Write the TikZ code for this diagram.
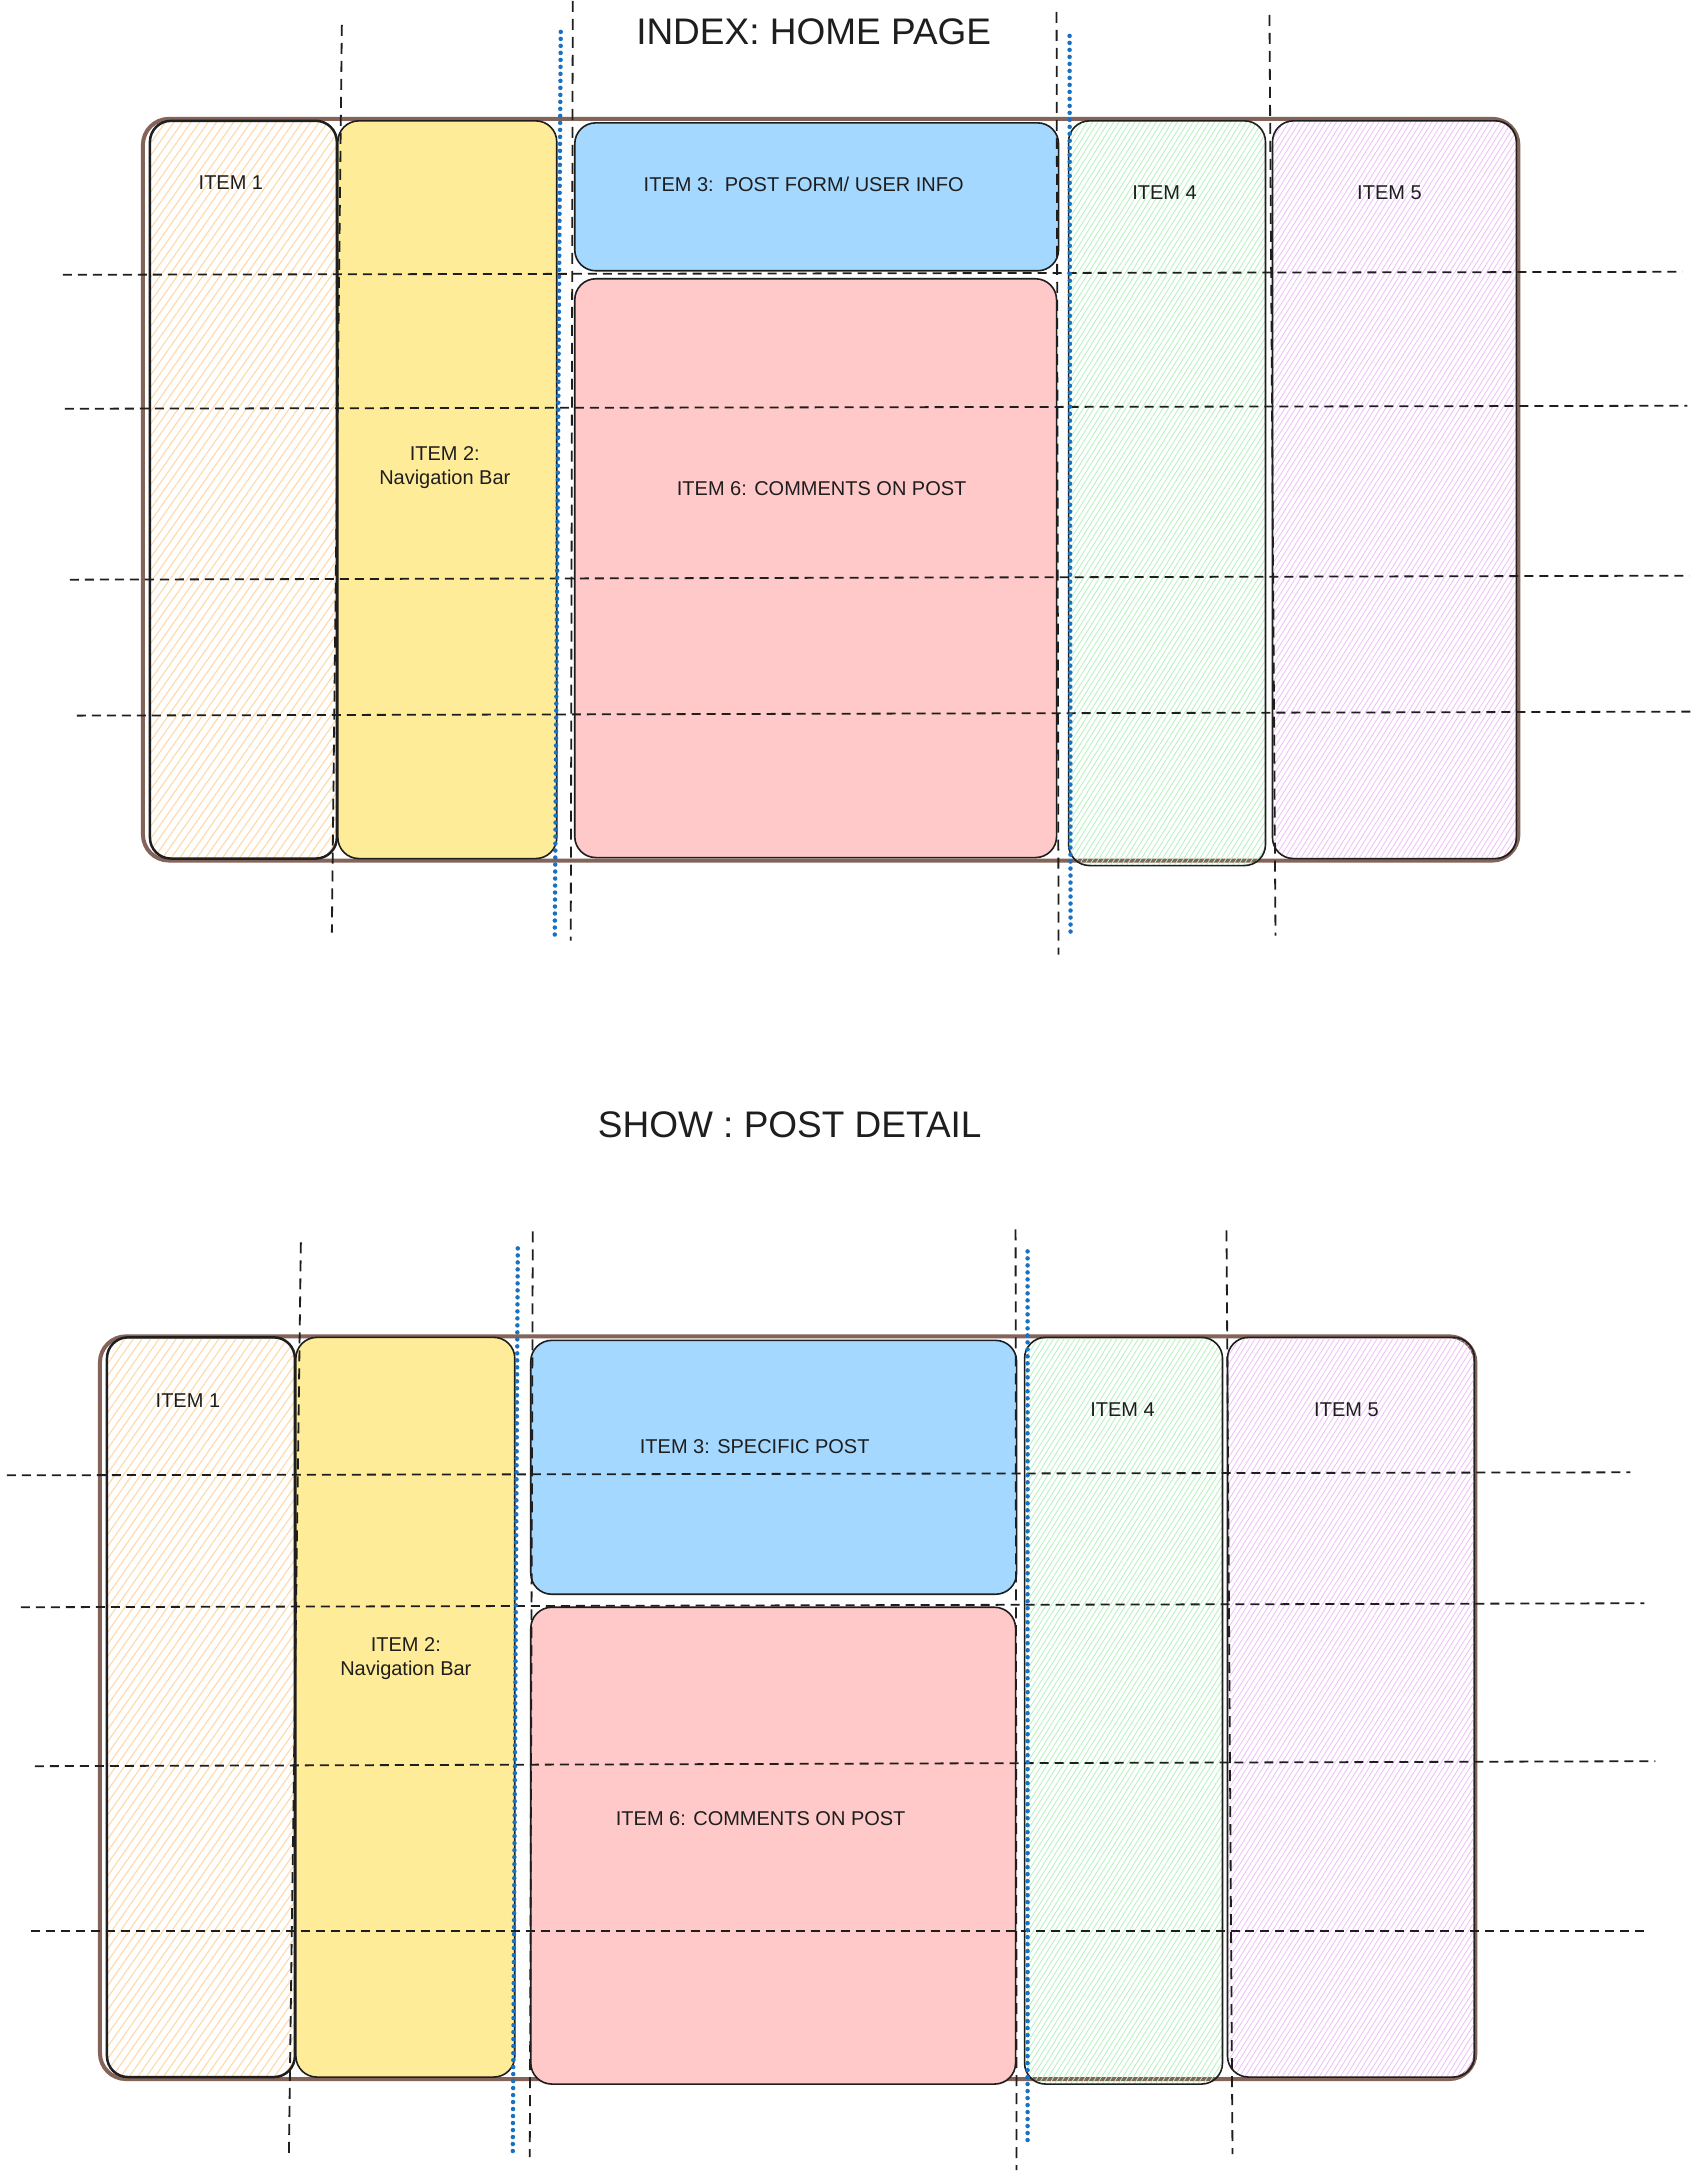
\documentclass[tikz,border=0pt]{standalone}
\usepackage{fontspec}
\setmainfont{Liberation Sans}
\usepackage{xcolor}
\usepackage{tikz}
\usetikzlibrary{patterns.meta}

\definecolor{framebrown}{HTML}{846358}
\definecolor{ink}{HTML}{1E1E1E}
\definecolor{navyellow}{HTML}{FFEC99}
\definecolor{postblue}{HTML}{A5D8FF}
\definecolor{commentpink}{HTML}{FFC9C9}
\definecolor{hatchorange}{HTML}{FFD8A8}
\definecolor{hatchgreen}{HTML}{B2F2BB}
\definecolor{hatchpurple}{HTML}{EEBEFA}
\definecolor{guideblue}{HTML}{1971C2}

\tikzset{
  pageframe/.style={draw=framebrown, line width=4pt, rounded corners=26pt},
  itembox/.style={draw=ink, line width=1.6pt, rounded corners=21pt},
  hatchwide/.style={itembox, pattern={Lines[angle=55,distance=7pt,line width=1.1pt]}, pattern color=#1},
  hatchfine/.style={itembox, pattern={Lines[angle=58,distance=4.5pt,line width=0.8pt]}, pattern color=#1},
  gridline/.style={draw=ink, line width=1.8pt, dash pattern=on 9pt off 6pt},
  colline/.style={draw=ink, line width=1.8pt, dash pattern=on 11pt off 7pt},
  colguide/.style={draw=guideblue, line width=4.5pt, line cap=round, dash pattern=on 0pt off 7pt},
  lbl/.style={font=\fontsize{20}{24}\selectfont, text=ink, align=center},
  heading/.style={font=\fontsize{37}{40}\selectfont, text=ink}
}

\begin{document}
\begin{tikzpicture}[x=1pt, y=-1pt]
    \fill[white] (0,0) rectangle (1703,2176);

    % INDEX: HOME PAGE
    \node[heading] (idxtitle) at (814,31) {INDEX: HOME PAGE};
    \draw[pageframe] (143,118) rectangle (1519,860);
    \draw[hatchwide=hatchorange, line width=2.5pt] (150,120) rectangle (337,858);
    \draw[itembox, fill=navyellow] (338,120) rectangle (557,858);
    \draw[itembox, fill=postblue] (575,122) rectangle (1059,270);
    \draw[itembox, fill=commentpink] (575,278) rectangle (1057,857);
    \draw[hatchfine=hatchgreen] (1069,120) rectangle (1266,865);
    \draw[hatchfine=hatchpurple] (1273,120) rectangle (1517,858);

    \node[lbl] (idxone) at (231,182) {ITEM 1};
    \node[lbl] (idxtwo) at (445,467) {ITEM 2:\\ Navigation Bar};
    \node[lbl] (idxthree) at (804,184) {ITEM 3:\ \ POST FORM/ USER INFO};
    \node[lbl] (idxsix) at (822,488) {ITEM 6: COMMENTS ON POST};
    \node[lbl] (idxfour) at (1165,192) {ITEM 4};
    \node[lbl] (idxfive) at (1390,192) {ITEM 5};

    % Guides
    \foreach \xa/\ya/\xb/\yb in {63/274/1683/271, 65/408/1688/405, 70/579/1690/575, 77/715/1695/711}
        \draw[gridline] (\xa,\ya) -- (\xb,\yb);
    \foreach \xa/\ya/\xb/\yb in {342/24/332/932, 573/0/571/940, 1057/11/1059/954, 1270/14/1276/935}
        \draw[colline] (\xa,\ya) -- (\xb,\yb);
    \foreach \xa/\ya/\xb/\yb in {561/31/555/935, 1070/35/1071/935}
        \draw[colguide] (\xa,\ya) -- (\xb,\yb);

    % SHOW : POST DETAIL
    \node[heading] (shwtitle) at (790,1124) {SHOW : POST DETAIL};
    \draw[pageframe] (100,1336) rectangle (1476,2079);
    \draw[hatchwide=hatchorange, line width=2.5pt] (107,1337) rectangle (295,2077);
    \draw[itembox, fill=navyellow] (296,1337) rectangle (515,2077);
    \draw[itembox, fill=postblue] (531,1340) rectangle (1017,1594);
    \draw[itembox, fill=commentpink] (531,1607) rectangle (1016,2084);
    \draw[hatchfine=hatchgreen] (1025,1337) rectangle (1223,2084);
    \draw[hatchfine=hatchpurple] (1228,1337) rectangle (1475,2077);

    \node[lbl] (shwone) at (188,1400) {ITEM 1};
    \node[lbl] (shwtwo) at (406,1658) {ITEM 2:\\ Navigation Bar};
    \node[lbl] (shwthree) at (755,1446) {ITEM 3: SPECIFIC POST};
    \node[lbl] (shwsix) at (761,1818) {ITEM 6: COMMENTS ON POST};
    \node[lbl] (shwfour) at (1123,1409) {ITEM 4};
    \node[lbl] (shwfive) at (1347,1409) {ITEM 5};

    % Guides
    \foreach \xa/\ya/\xb/\yb in {7/1475/1631/1472, 21/1607/1645/1603, 35/1766/1656/1761, 31/1931/1645/1931}
        \draw[gridline] (\xa,\ya) -- (\xb,\yb);
    \foreach \xa/\ya/\xb/\yb in {301/1242/289/2154, 533/1231/530/2157, 1016/1229/1017/2170, 1227/1230/1233/2154}
        \draw[colline] (\xa,\ya) -- (\xb,\yb);
    \foreach \xa/\ya/\xb/\yb in {518/1248/513/2154, 1028/1251/1028/2143}
        \draw[colguide] (\xa,\ya) -- (\xb,\yb);
\end{tikzpicture}
\end{document}
